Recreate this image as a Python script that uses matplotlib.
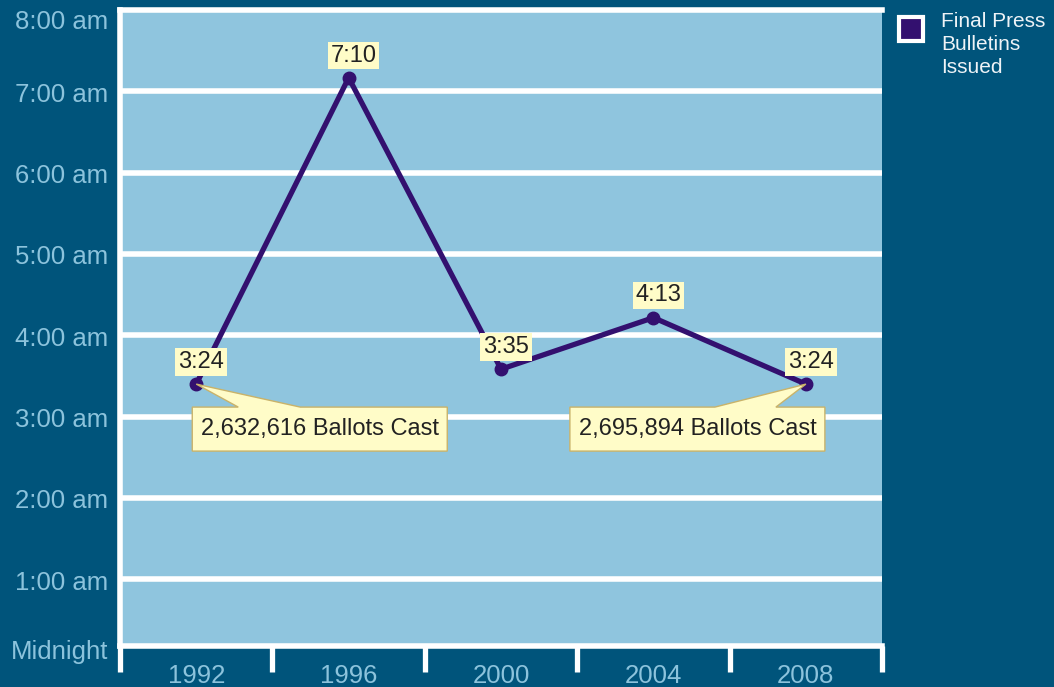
import numpy as np
import matplotlib
matplotlib.use("Agg")
import matplotlib.pyplot as plt
from matplotlib.lines import Line2D
from matplotlib.patches import Polygon
from matplotlib.transforms import IdentityTransform

plt.rcParams["font.family"] = ["Liberation Sans", "DejaVu Sans"]

years = ["1992", "1996", "2000", "2004", "2008"]
bulletin_times = ["3:24", "7:10", "3:35", "4:13", "3:24"]
hour_labels = ["Midnight", "1:00 am", "2:00 am", "3:00 am", "4:00 am",
               "5:00 am", "6:00 am", "7:00 am", "8:00 am"]
ballot_years = ["1992", "2008"]
ballots_cast = [2632616, 2695894]

# where the hour labels sit (the end ones are pulled inside the frame)
hour_label_y = [0.106, 0.96, 1.96, 2.96, 3.96, 4.96, 5.96, 6.96, 7.85]

FIG_BG = "#00547b"
PLOT_BG = "#8fc5de"
LINE_COLOR = "#33106f"
LABEL_COLOR = "#8cc3dc"
NOTE_FILL = "#fffcc8"
NOTE_EDGE = "#c9b36a"


def to_hours(t):
    h, m = t.split(":")
    return int(h) + int(m) / 60


hours = [to_hours(t) for t in bulletin_times]
x = np.arange(len(years))

fig = plt.figure(figsize=(10.54, 6.87), dpi=100, facecolor=FIG_BG)
ax = fig.add_axes([0.1139, 0.0597, 0.7230, 0.9258])
ax.set_facecolor(PLOT_BG)

ax.set_xlim(-0.5, len(years) - 0.5)
ax.set_ylim(0.18, 8)

# hour grid
ax.set_yticks(range(1, 8))
ax.yaxis.grid(True, color="white", linewidth=4)
ax.tick_params(axis="y", length=0, labelleft=False)
ax.set_axisbelow(True)

for lab, ly in zip(hour_labels, hour_label_y):
    ax.text(-0.016, ly, lab, transform=ax.get_yaxis_transform(), clip_on=False,
            ha="right", va="center", fontsize=18.5, color=LABEL_COLOR)

# year labels between boundary ticks
ax.set_xticks(x, years)
ax.set_xticks(np.arange(-0.5, len(years)), minor=True)
ax.tick_params(axis="x", which="major", length=0, pad=13, labelsize=18.5,
               labelcolor=LABEL_COLOR)
ax.tick_params(axis="x", which="minor", length=18.7, width=3.8, color="white",
               direction="out")

for side in ["left", "top", "bottom"]:
    ax.spines[side].set_color("white")
    ax.spines[side].set_linewidth(4)
ax.spines["right"].set_visible(False)

ax.plot(x, hours, color=LINE_COLOR, linewidth=3.8, marker="o", markersize=9,
        zorder=3, clip_on=False)

for xi, h, t in zip(x, hours, bulletin_times):
    ax.annotate(t, (xi, h), xytext=(3.6, 16), textcoords="offset points",
                ha="center", va="center", fontsize=17, color="#222222", zorder=5,
                bbox=dict(boxstyle="square,pad=0.12", fc=NOTE_FILL, ec="none"))

# ballots callouts: box left, box right, wedge base (pixels from the point)
callout_shapes = {
    "1992": (-4, 251, 42, 104),
    "2008": (-236, 19, -91, -30),
}
fig.canvas.draw()
for yr, n in zip(ballot_years, ballots_cast):
    i = years.index(yr)
    px, py = ax.transData.transform((i, hours[i]))
    left, right, w0, w1 = callout_shapes[yr]
    top, bottom = -23, -67
    verts = [(0, 0), (w1, top), (right, top), (right, bottom),
             (left, bottom), (left, top), (w0, top)]
    poly = Polygon([(px + vx, py + vy) for vx, vy in verts], closed=True,
                   facecolor=NOTE_FILL, edgecolor=NOTE_EDGE, linewidth=1,
                   transform=IdentityTransform(), zorder=6)
    fig.add_artist(poly)
    fig.text((px + (left + right) / 2) / fig.bbox.width,
             (py + (top + bottom) / 2) / fig.bbox.height,
             f"{n:,} Ballots Cast", ha="center", va="center", fontsize=17,
             color="#222222", zorder=7)

# legend
fig.add_artist(Line2D([0.8643], [0.9585], marker="s", markersize=17,
                      markerfacecolor=LINE_COLOR, markeredgecolor="white",
                      markeredgewidth=3, linestyle="none",
                      transform=fig.transFigure))
fig.text(0.8928, 0.983, "Final Press\nBulletins\nIssued", ha="left", va="top",
         fontsize=15, color="#eef3f7", linespacing=1.27)

fig.savefig("out.png", dpi=100, facecolor=FIG_BG)
